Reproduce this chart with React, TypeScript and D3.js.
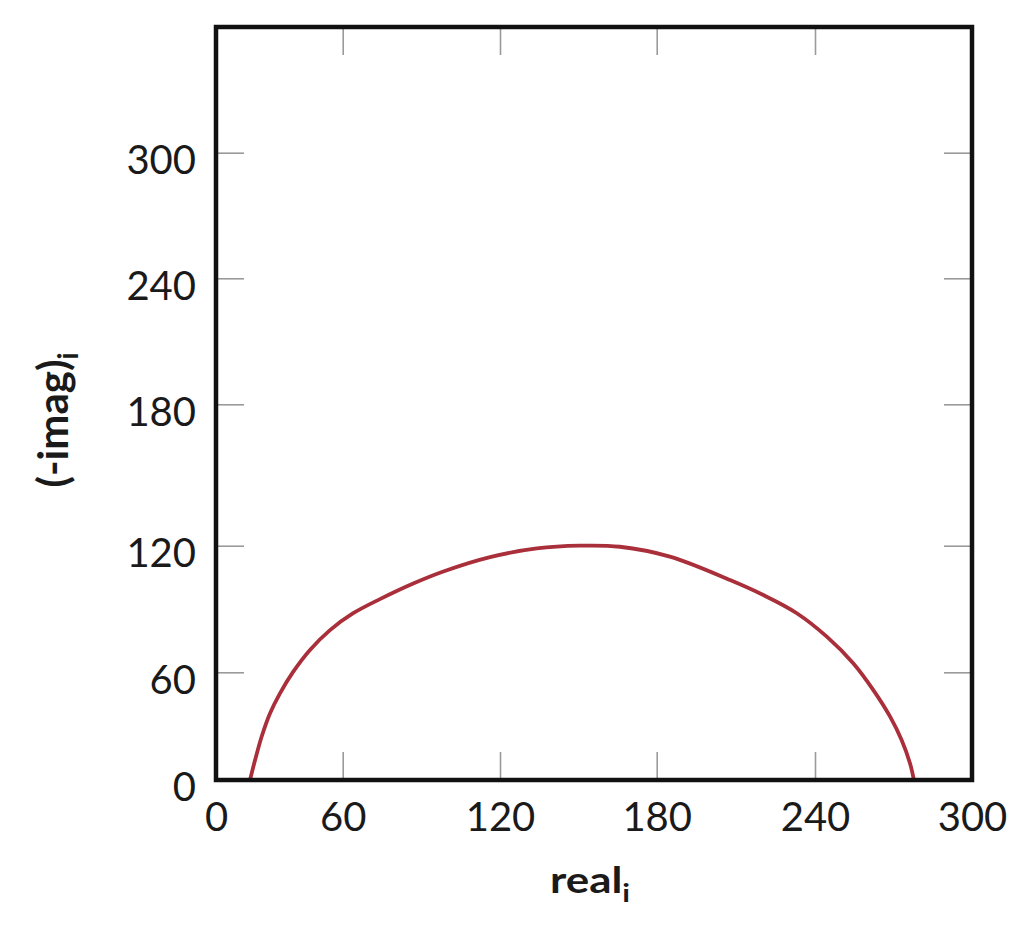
import * as React from "react";
import * as d3 from "d3";

const { useRef, useEffect } = React;

// tick values
const xTicks = [0, 60, 120, 180, 240, 300];
const yTicks = [0, 60, 120, 180, 240, 300];
const yMax = 360;

// curve (real, -imag)
const realValues = [16.1, 18.5, 21.6, 25.6, 30.3, 36.6, 44.5, 54.0, 64.0, 74.2, 86.9, 98.4, 116.2, 134.1,
  150.6, 165.9, 185.0, 207.8, 220.4, 233.1, 244.5, 254.6, 262.3, 268.7, 273.1, 276.3, 277.8];
const imagValues = [0, 11.1, 24.1, 37.2, 48.3, 60.3, 70.6, 80.0, 88.0, 94.7, 102.1, 107.8, 114.6, 118.7,
  120.0, 119.5, 114.8, 103.7, 96.6, 88.0, 76.9, 64.3, 50.1, 35.3, 22.3, 9.3, 0];

// pixel anchors of the ticks (the original axes are not evenly spaced)
const xAnchors = [216, 342.7, 500, 656.7, 815, 972];
const yAnchors = [780, 672.3, 545.7, 404.3, 278.3, 152.7, 27];

const W = 1009, H = 927;
const FONT = "Lato, 'Open Sans', sans-serif";

const Chart = () => {
  const svgRef = useRef(null);

  useEffect(() => {
    const svg = d3.select(svgRef.current);
    svg.selectAll("*").remove();

    const x = d3.scaleLinear().domain(xTicks).range(xAnchors);
    const y = d3.scaleLinear().domain([...yTicks, yMax]).range(yAnchors);

    const left = x(0), right = x(300), top = y(yMax), bottom = y(0);
    const tickLen = 28;

    // inner ticks
    const styleTicks = (g) => {
      g.select(".domain").remove();
      g.selectAll(".tick line").attr("stroke", "#9a9a9a").attr("stroke-width", 1.6);
      g.selectAll(".tick text")
        .attr("font-family", FONT)
        .attr("font-size", 40)
        .attr("fill", "#1a1a1a");
    };

    svg.append("g")
      .attr("transform", `translate(${left},0)`)
      .call(d3.axisLeft(y).tickValues(yTicks).tickSize(-tickLen).tickPadding(20))
      .call(styleTicks)
      .selectAll(".tick text").attr("dy", "0.52em");

    svg.append("g")
      .attr("transform", `translate(${right},0)`)
      .call(d3.axisRight(y).tickValues(yTicks.slice(1)).tickSize(-tickLen).tickFormat(() => ""))
      .call(styleTicks);

    svg.append("g")
      .attr("transform", `translate(0,${bottom})`)
      .call(d3.axisBottom(x).tickValues(xTicks).tickSize(-tickLen).tickPadding(16))
      .call(styleTicks)
      .selectAll(".tick text").attr("dy", "0.88em");

    svg.append("g")
      .attr("transform", `translate(0,${top})`)
      .call(d3.axisTop(x).tickValues(xTicks.slice(1, -1)).tickSize(-tickLen).tickFormat(() => ""))
      .call(styleTicks);

    // curve
    const pts = realValues.map((r, i) => [r, imagValues[i]]);
    const line = d3.line()
      .x(d => x(d[0]))
      .y(d => y(d[1]))
      .curve(d3.curveCatmullRom.alpha(0.5));

    svg.append("path")
      .datum(pts)
      .attr("d", line)
      .attr("fill", "none")
      .attr("stroke", "#a92f3a")
      .attr("stroke-width", 3.8)
      .attr("stroke-linecap", "round");

    // frame
    svg.append("rect")
      .attr("x", left).attr("y", top)
      .attr("width", right - left).attr("height", bottom - top)
      .attr("fill", "none")
      .attr("stroke", "#111")
      .attr("stroke-width", 4.5);

    // axis titles (the original figure is stretched sideways)
    const xt = svg.append("text")
      .attr("transform", "translate(590,893) scale(1.22,1)")
      .attr("text-anchor", "middle")
      .attr("font-family", FONT)
      .attr("font-size", 36)
      .attr("font-weight", "bold")
      .attr("fill", "#1a1a1a");
    xt.append("tspan").text("real");
    xt.append("tspan").attr("font-size", 25).attr("dy", 9).text("i");

    const yt = svg.append("text")
      .attr("transform", "translate(68,420) rotate(-90)")
      .attr("text-anchor", "middle")
      .attr("font-family", FONT)
      .attr("font-size", 42)
      .attr("font-weight", "bold")
      .attr("fill", "#1a1a1a");
    yt.append("tspan").text("(-imag)");
    yt.append("tspan").attr("font-size", 28).attr("dy", 10).text("i");
  }, []);

  return (
    <svg ref={svgRef} width={W} height={H}
      style={{ position: "absolute", left: 0, top: 0, background: "#fff" }} />
  );
};

export default function App() {
  return <Chart />;
}
